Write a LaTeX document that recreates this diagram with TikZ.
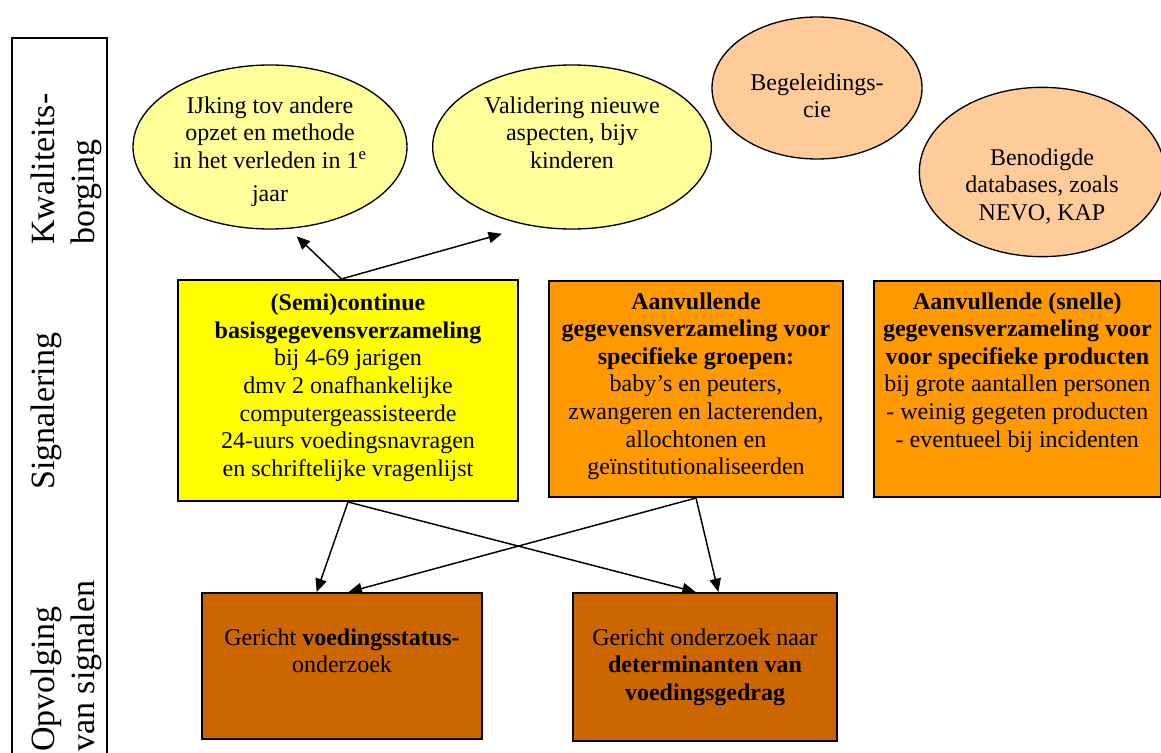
\documentclass[tikz,border=0pt]{standalone}
\usepackage{fontspec}
\setmainfont{Liberation Serif}
\usetikzlibrary{shapes.geometric,arrows.meta}

\definecolor{lichtgeel}{HTML}{FFFF99}
\definecolor{perzik}{HTML}{FFCC99}
\definecolor{geel}{HTML}{FFFF00}
\definecolor{oranje}{HTML}{FF9900}
\definecolor{roest}{HTML}{CC6600}

\begin{document}
\begin{tikzpicture}[x=0.75pt, y=-0.75pt,
    font=\fontsize{18}{20.7}\selectfont,
    ovaal/.style={ellipse, draw, line width=1pt, inner sep=0pt, align=center, text depth=0pt},
    blok/.style={rectangle, draw, line width=1.5pt, inner sep=0pt, align=center, anchor=north west},
    rand/.style={font=\fontsize{25.5}{30}\selectfont, rotate=90, align=left, anchor=north west, inner sep=0pt},
    pijl/.style={-{Triangle[length=10pt,width=8.5pt]}, line width=1.1pt}]
    \useasboundingbox (0,0) rectangle (1161,753);

    % linker kolom
    \draw[line width=1.4pt] (12,38) rectangle (107,780);
    \node[rand] (kwal) at (31,245) {Kwaliteits-\\borging};
    \node[rand] (sign) at (31,490) {Signalering};
    \node[rand] (opvolg) at (31,752) {Opvolging\\van signalen};

    % kwaliteitsborging
    \node[ovaal, fill=lichtgeel, minimum width=205.5pt, minimum height=123pt, text height=81.2pt] (ijk) at (270,147)
        {IJking tov andere\\opzet en methode\\in het verleden in 1\textsuperscript{e}\\[4pt]jaar};
    \node[ovaal, fill=lichtgeel, minimum width=209pt, minimum height=123pt, text height=31.8pt] (valid) at (572,147)
        {Validering nieuwe\\aspecten, bijv\\kinderen};
    \node[ovaal, fill=perzik, minimum width=157.5pt, minimum height=106.5pt, text height=44.4pt] (begel) at (817,88)
        {Begeleidings-\\cie};
    \node[ovaal, fill=perzik, minimum width=184pt, minimum height=127pt, text height=72.3pt] (bendb) at (1042,172)
        {Benodigde\\databases, zoals\\NEVO, KAP};

    % signalering
    \node[blok, fill=geel, minimum width=255pt, text height=147.2pt, text depth=18.55pt] (basis) at (177,279)
        {\textbf{(Semi)continue}\\\textbf{basisgegevensverzameling}\\bij 4-69 jarigen\\dmv 2 onafhankelijke\\computergeassisteerde\\24-uurs voedingsnavragen\\en schriftelijke vragenlijst};
    \node[blok, fill=oranje, minimum width=220.5pt, text height=145.2pt, text depth=16.8pt] (groep) at (548,280)
        {\textbf{Aanvullende}\\\textbf{gegevensverzameling voor}\\\textbf{specifieke groepen:}\\baby’s en peuters,\\zwangeren en lacterenden,\\allochtonen en\\geïnstitutionaliseerden};
    \node[blok, fill=oranje, minimum width=215pt, text height=124.5pt, text depth=37.5pt] (prod) at (873,280)
        {\textbf{Aanvullende (snelle)}\\\textbf{gegevensverzameling voor}\\\textbf{voor specifieke producten}\\bij grote aantallen personen\\- weinig gegeten producten\\- eventueel bij incidenten};

    % opvolging
    \node[blok, fill=roest, minimum width=210pt, text height=59.7pt, text depth=49.8pt] (status) at (201,592)
        {Gericht \textbf{voedingsstatus-}\\onderzoek};
    \node[blok, fill=roest, minimum width=198pt, text height=80.4pt, text depth=30.6pt] (determ) at (572,592)
        {Gericht onderzoek naar\\\textbf{determinanten van}\\\textbf{voedingsgedrag}};

    \draw[pijl, shorten >=8pt] ([xshift=-5pt]basis.north) -- (ijk.-77);
    \draw[pijl, shorten >=22pt] ([xshift=-5pt]basis.north) -- (valid.-118);
    \draw[pijl] (basis.south) -- ([xshift=-19pt]status.north);
    \draw[pijl] (groep.south) -- ([xshift=5pt]status.north);
    \draw[pijl] (basis.south) -- ([xshift=-7pt]determ.north);
    \draw[pijl] (groep.south) -- ([xshift=10pt]determ.north);
\end{tikzpicture}
\end{document}
